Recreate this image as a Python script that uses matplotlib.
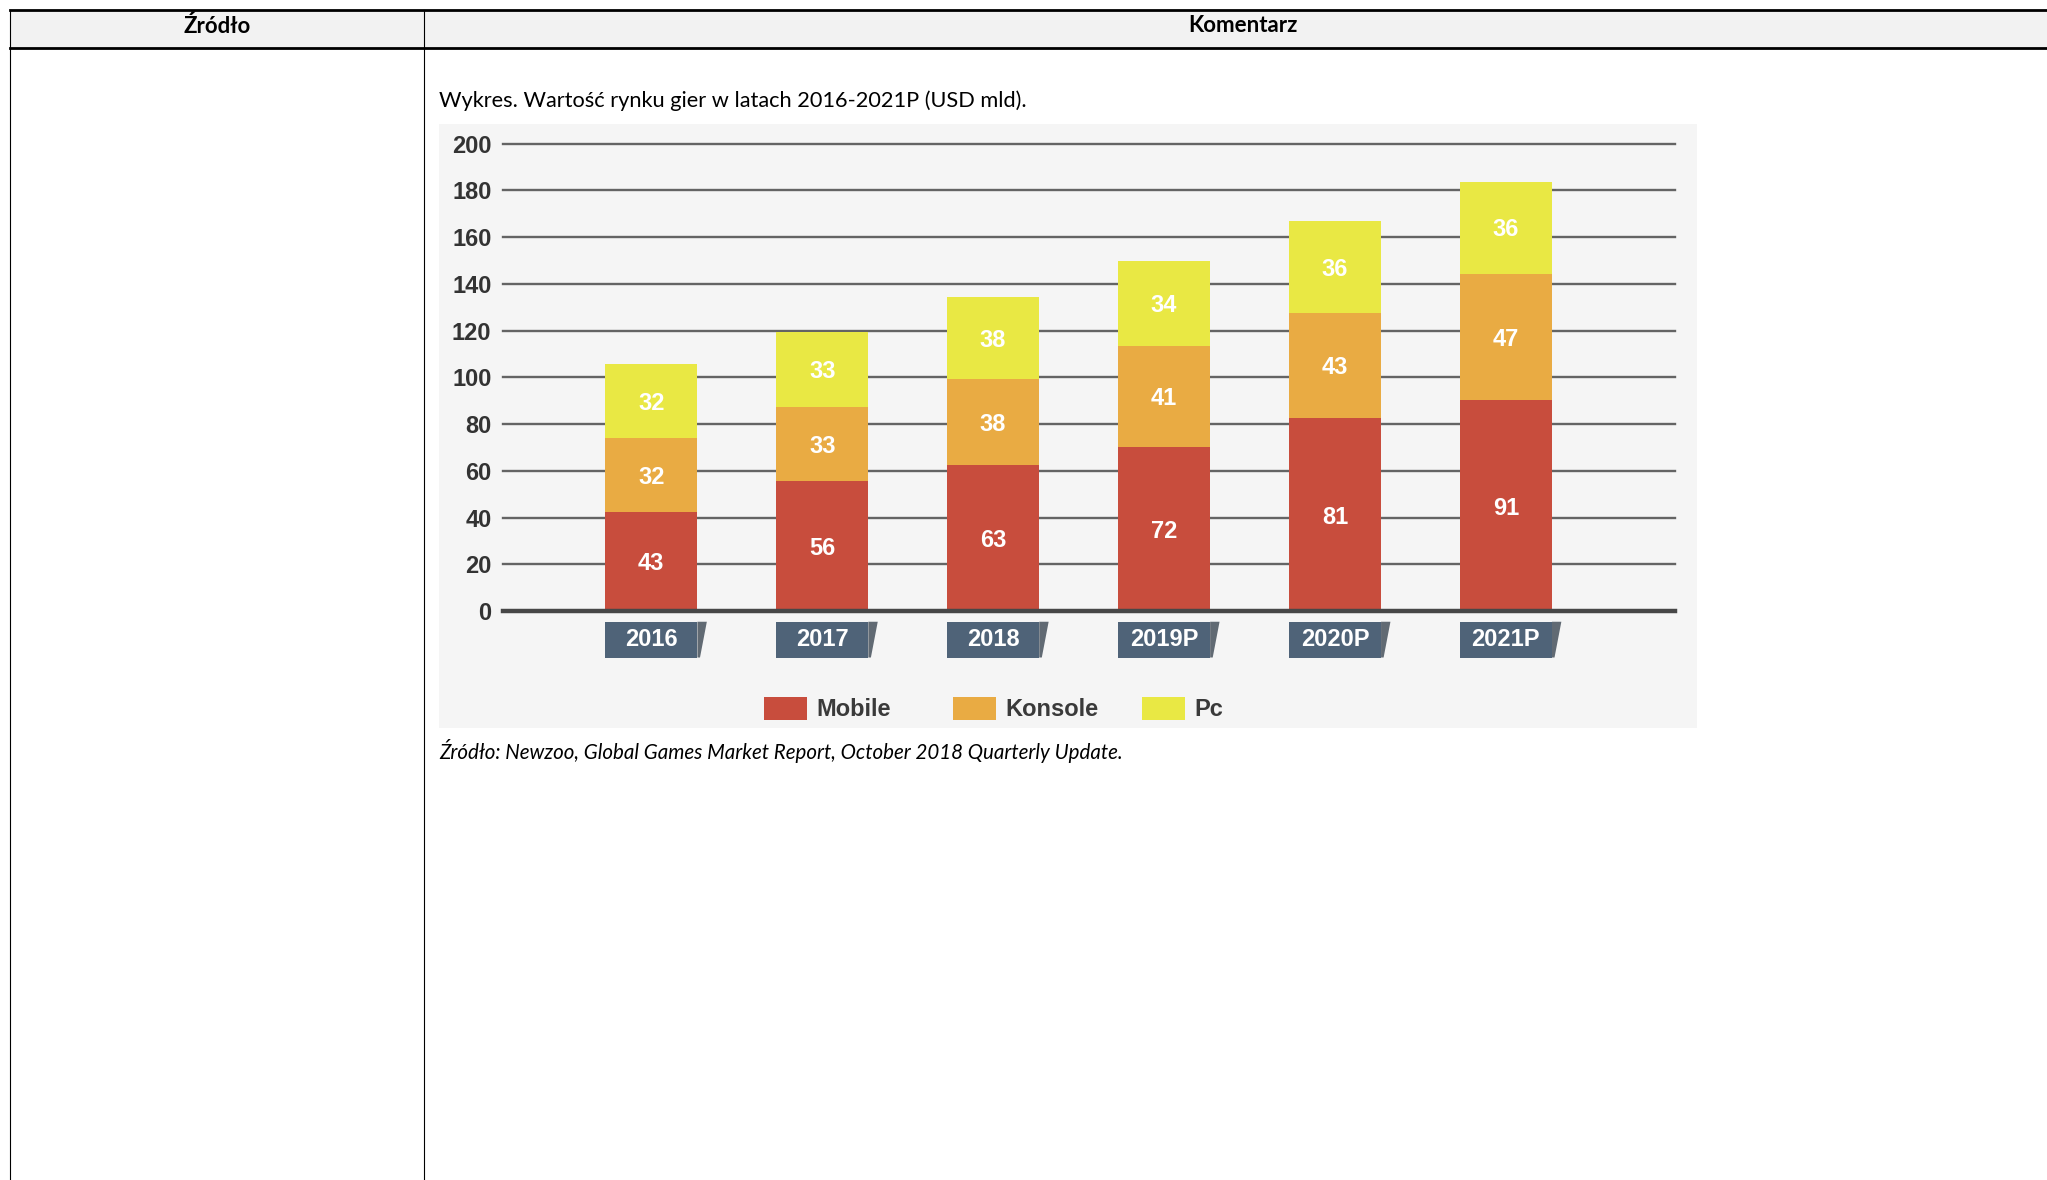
import matplotlib
matplotlib.use("Agg")
import matplotlib.pyplot as plt
from matplotlib.patches import Rectangle, Polygon
import numpy as np

# ---------------------------------------------------------------------------
# Data (Newzoo, October 2018)
# ---------------------------------------------------------------------------
YEARS = ["2016", "2017", "2018", "2019P", "2020P", "2021P"]
SERIES = ["Mobile", "Konsole", "Pc"]

# numbers printed on the segments
MOBILE_LABELS = [43, 56, 63, 72, 81, 91]
KONSOLE_LABELS = [32, 33, 38, 41, 43, 47]
PC_LABELS = [32, 33, 38, 34, 36, 36]

# segment heights as drawn in the source (they don't follow the printed numbers exactly)
MOBILE = [42.4, 55.7, 62.6, 70.2, 82.4, 90.1]
KONSOLE = [31.6, 31.8, 36.6, 43.1, 45.2, 54.3]
PC = [31.8, 31.7, 35.2, 36.6, 39.1, 39.3]

Y_TICKS = [0, 20, 40, 60, 80, 100, 120, 140, 160, 180, 200]

COLORS = {"Mobile": "#C84D3D", "Konsole": "#E9AB43", "Pc": "#E9E844"}
BOX_COLOR = "#4F6378"

W, H = 2047, 1180
BODY_FONT = ["Lato", "DejaVu Sans"]
CHART_FONT = ["Liberation Sans Narrow", "Liberation Sans", "DejaVu Sans"]


def frac(x0, y0, x1, y1):
    """pixel box (top-left origin) -> figure fraction rect"""
    return [x0 / W, 1 - y1 / H, (x1 - x0) / W, (y1 - y0) / H]


fig = plt.figure(figsize=(W / 100, H / 100), dpi=100)

# page layer in pixel coordinates: table, captions, legend
page = fig.add_axes([0, 0, 1, 1])
page.set_xlim(0, W)
page.set_ylim(H, 0)
page.axis("off")

page.add_patch(Rectangle((10, 10), W - 10, 38, fc="#F2F2F2", ec="none"))
page.plot([10, W], [10, 10], color="black", lw=2.0)
page.plot([10, W], [48, 48], color="black", lw=2.0)
page.plot([10, 10], [10, H], color="black", lw=0.8)
page.plot([424, 424], [10, H], color="black", lw=0.8)
page.text(217, 26, "Źródło", ha="center", va="center", fontsize=16,
          fontweight="bold", family=BODY_FONT)
page.text(1243, 26, "Komentarz", ha="center", va="center", fontsize=16,
          fontweight="bold", family=BODY_FONT)

page.text(439, 101, "Wykres. Wartość rynku gier w latach 2016-2021P (USD mld).",
          ha="left", va="center", fontsize=15.7, family=BODY_FONT)
page.text(439, 751, "Źródło: Newzoo, Global Games Market Report, October 2018 Quarterly Update.",
          ha="left", va="center", fontsize=14.8, style="italic", family=BODY_FONT)

# chart background
page.add_patch(Rectangle((439, 124), 1258, 604, fc="#F5F5F5", ec="none"))

# legend
for name, px in zip(SERIES, [764, 953, 1142]):
    page.add_patch(Rectangle((px, 697), 43, 23, fc=COLORS[name], ec="none"))
    page.text(px + 52, 709, name, ha="left", va="center", fontsize=17,
              fontweight="bold", color="#3A3A3A", family=CHART_FONT)

# ---------------------------------------------------------------------------
# the chart itself
# ---------------------------------------------------------------------------
ax = fig.add_axes(frac(502.6, 143.6, 1675, 611))
ax.patch.set_alpha(0)
ax.set_xlim(-0.87, 5.99)
ax.set_ylim(0, 200)
for s in ax.spines.values():
    s.set_visible(False)

for t in Y_TICKS[1:]:
    ax.axhline(t, color="#646464", lw=1.7, zorder=0, clip_on=False)
ax.axhline(0, color="#474747", lw=3.2, zorder=3, clip_on=False)

ax.set_yticks(Y_TICKS)
ax.set_yticklabels([str(t) for t in Y_TICKS], fontsize=17, fontweight="bold",
                   color="#333333", family=CHART_FONT)
ax.tick_params(axis="y", length=0, pad=8)
ax.set_xticks([])

x = np.arange(len(YEARS))
width = 0.54
bottom = np.zeros(len(YEARS))
for name, heights, labels in zip(SERIES, [MOBILE, KONSOLE, PC],
                                 [MOBILE_LABELS, KONSOLE_LABELS, PC_LABELS]):
    ax.bar(x, heights, width=width, bottom=bottom, color=COLORS[name],
           zorder=2, linewidth=0)
    for xi, b, h, lab in zip(x, bottom, heights, labels):
        ax.text(xi, b + h / 2 - 1, str(lab), ha="center", va="center",
                color="white", fontsize=17, fontweight="bold", family=CHART_FONT,
                zorder=4)
    bottom = bottom + np.array(heights)

# year tabs under the axis
for xi, year in zip(x, YEARS):
    left, right = xi - width / 2, xi + width / 2
    ax.add_patch(Polygon([(right, -4.6), (right + 0.055, -4.6), (right + 0.015, -19.9),
                          (right, -19.9)], closed=True, fc="#2F3B47", alpha=0.75,
                         ec="none", clip_on=False, zorder=3))
    ax.add_patch(Rectangle((left, -19.9), width, 15.3, fc=BOX_COLOR, ec="none",
                           clip_on=False, zorder=4))
    ax.text(xi, -12.3, year, ha="center", va="center", color="white",
            fontsize=17, fontweight="bold", family=CHART_FONT, zorder=5)

fig.savefig("out.png", dpi=100)
